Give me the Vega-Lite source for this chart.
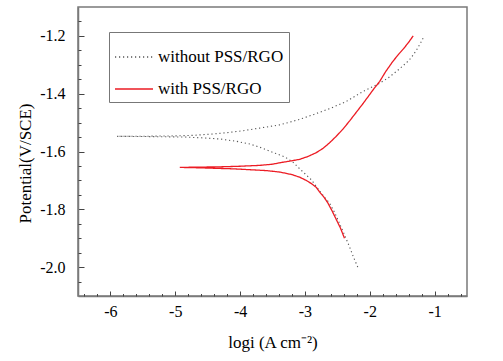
{
  "$schema": "https://vega.github.io/schema/vega-lite/v6.json",
  "width": 389,
  "height": 289,
  "autosize": {"type": "none"},
  "padding": {"left": 78, "top": 7, "right": 36, "bottom": 65},
  "background": "white",
  "config": {
    "view": {"stroke": "#7a7a7a", "strokeWidth": 1.5},
    "font": "Liberation Serif"
  },
  "data": {
    "values": [
      {"s": "without PSS/RGO", "x": -2.185, "y": -2.000},
      {"s": "without PSS/RGO", "x": -2.25, "y": -1.966},
      {"s": "without PSS/RGO", "x": -2.312, "y": -1.930},
      {"s": "without PSS/RGO", "x": -2.39, "y": -1.888},
      {"s": "without PSS/RGO", "x": -2.466, "y": -1.849},
      {"s": "without PSS/RGO", "x": -2.54, "y": -1.812},
      {"s": "without PSS/RGO", "x": -2.62, "y": -1.779},
      {"s": "without PSS/RGO", "x": -2.72, "y": -1.752},
      {"s": "without PSS/RGO", "x": -2.825, "y": -1.721},
      {"s": "without PSS/RGO", "x": -2.90, "y": -1.698},
      {"s": "without PSS/RGO", "x": -2.98, "y": -1.681},
      {"s": "without PSS/RGO", "x": -3.08, "y": -1.660},
      {"s": "without PSS/RGO", "x": -3.185, "y": -1.637},
      {"s": "without PSS/RGO", "x": -3.30, "y": -1.620},
      {"s": "without PSS/RGO", "x": -3.389, "y": -1.612},
      {"s": "without PSS/RGO", "x": -3.55, "y": -1.598},
      {"s": "without PSS/RGO", "x": -3.70, "y": -1.585},
      {"s": "without PSS/RGO", "x": -3.85, "y": -1.574},
      {"s": "without PSS/RGO", "x": -4.05, "y": -1.565},
      {"s": "without PSS/RGO", "x": -4.30, "y": -1.557},
      {"s": "without PSS/RGO", "x": -4.57, "y": -1.553},
      {"s": "without PSS/RGO", "x": -4.85, "y": -1.550},
      {"s": "without PSS/RGO", "x": -5.20, "y": -1.549},
      {"s": "without PSS/RGO", "x": -5.55, "y": -1.548},
      {"s": "without PSS/RGO", "x": -5.90, "y": -1.5475},
      {"s": "without PSS/RGO", "x": -5.40, "y": -1.547},
      {"s": "without PSS/RGO", "x": -5.00, "y": -1.546},
      {"s": "without PSS/RGO", "x": -4.72, "y": -1.544},
      {"s": "without PSS/RGO", "x": -4.45, "y": -1.540},
      {"s": "without PSS/RGO", "x": -4.21, "y": -1.535},
      {"s": "without PSS/RGO", "x": -3.95, "y": -1.528},
      {"s": "without PSS/RGO", "x": -3.70, "y": -1.519},
      {"s": "without PSS/RGO", "x": -3.389, "y": -1.508},
      {"s": "without PSS/RGO", "x": -3.10, "y": -1.490},
      {"s": "without PSS/RGO", "x": -2.877, "y": -1.473},
      {"s": "without PSS/RGO", "x": -2.60, "y": -1.450},
      {"s": "without PSS/RGO", "x": -2.364, "y": -1.427},
      {"s": "without PSS/RGO", "x": -2.108, "y": -1.393},
      {"s": "without PSS/RGO", "x": -1.85, "y": -1.364},
      {"s": "without PSS/RGO", "x": -1.72, "y": -1.346},
      {"s": "without PSS/RGO", "x": -1.594, "y": -1.324},
      {"s": "without PSS/RGO", "x": -1.49, "y": -1.304},
      {"s": "without PSS/RGO", "x": -1.389, "y": -1.283},
      {"s": "without PSS/RGO", "x": -1.32, "y": -1.263},
      {"s": "without PSS/RGO", "x": -1.262, "y": -1.243},
      {"s": "without PSS/RGO", "x": -1.21, "y": -1.222},
      {"s": "without PSS/RGO", "x": -1.158, "y": -1.200},
      {"s": "with PSS/RGO", "x": -2.39, "y": -1.900},
      {"s": "with PSS/RGO", "x": -2.45, "y": -1.866},
      {"s": "with PSS/RGO", "x": -2.517, "y": -1.835},
      {"s": "with PSS/RGO", "x": -2.58, "y": -1.806},
      {"s": "with PSS/RGO", "x": -2.646, "y": -1.778},
      {"s": "with PSS/RGO", "x": -2.71, "y": -1.757},
      {"s": "with PSS/RGO", "x": -2.774, "y": -1.740},
      {"s": "with PSS/RGO", "x": -2.825, "y": -1.724},
      {"s": "with PSS/RGO", "x": -2.90, "y": -1.711},
      {"s": "with PSS/RGO", "x": -2.98, "y": -1.700},
      {"s": "with PSS/RGO", "x": -3.08, "y": -1.689},
      {"s": "with PSS/RGO", "x": -3.20, "y": -1.680},
      {"s": "with PSS/RGO", "x": -3.389, "y": -1.671},
      {"s": "with PSS/RGO", "x": -3.60, "y": -1.666},
      {"s": "with PSS/RGO", "x": -3.85, "y": -1.663},
      {"s": "with PSS/RGO", "x": -4.10, "y": -1.660},
      {"s": "with PSS/RGO", "x": -4.40, "y": -1.658},
      {"s": "with PSS/RGO", "x": -4.70, "y": -1.656},
      {"s": "with PSS/RGO", "x": -4.93, "y": -1.655},
      {"s": "with PSS/RGO", "x": -4.60, "y": -1.654},
      {"s": "with PSS/RGO", "x": -4.30, "y": -1.653},
      {"s": "with PSS/RGO", "x": -4.00, "y": -1.651},
      {"s": "with PSS/RGO", "x": -3.70, "y": -1.648},
      {"s": "with PSS/RGO", "x": -3.50, "y": -1.644},
      {"s": "with PSS/RGO", "x": -3.389, "y": -1.639},
      {"s": "with PSS/RGO", "x": -3.20, "y": -1.632},
      {"s": "with PSS/RGO", "x": -3.08, "y": -1.627},
      {"s": "with PSS/RGO", "x": -2.95, "y": -1.617},
      {"s": "with PSS/RGO", "x": -2.825, "y": -1.604},
      {"s": "with PSS/RGO", "x": -2.72, "y": -1.589},
      {"s": "with PSS/RGO", "x": -2.62, "y": -1.570},
      {"s": "with PSS/RGO", "x": -2.52, "y": -1.548},
      {"s": "with PSS/RGO", "x": -2.415, "y": -1.523},
      {"s": "with PSS/RGO", "x": -2.31, "y": -1.494},
      {"s": "with PSS/RGO", "x": -2.21, "y": -1.465},
      {"s": "with PSS/RGO", "x": -2.10, "y": -1.433},
      {"s": "with PSS/RGO", "x": -2.005, "y": -1.404},
      {"s": "with PSS/RGO", "x": -1.94, "y": -1.384},
      {"s": "with PSS/RGO", "x": -1.848, "y": -1.358},
      {"s": "with PSS/RGO", "x": -1.75, "y": -1.322},
      {"s": "with PSS/RGO", "x": -1.646, "y": -1.289},
      {"s": "with PSS/RGO", "x": -1.55, "y": -1.262},
      {"s": "with PSS/RGO", "x": -1.47, "y": -1.242},
      {"s": "with PSS/RGO", "x": -1.40, "y": -1.222},
      {"s": "with PSS/RGO", "x": -1.33, "y": -1.200}
    ]
  },
  "encoding": {
    "order": {"field": "y", "type": "quantitative"},
    "color": {
      "field": "s",
      "type": "nominal",
      "scale": {"domain": ["without PSS/RGO", "with PSS/RGO"], "range": ["#555555", "#ec1c24"]},
      "legend": {
        "title": null,
        "orient": "none",
        "legendX": 31,
        "legendY": 25,
        "strokeColor": "#777",
        "padding": 5,
        "symbolType": "stroke",
        "symbolSize": 1444,
        "symbolStrokeWidth": 1.3,
        "labelFont": "Liberation Serif",
        "labelFontSize": 17,
        "labelColor": "black",
        "labelOffset": 4,
        "rowPadding": 4,
        "labelLimit": 300
      }
    },
    "strokeDash": {
      "field": "s",
      "type": "nominal",
      "scale": {"domain": ["without PSS/RGO", "with PSS/RGO"], "range": [[1.2, 2.8], [1, 0]]},
      "legend": {
        "title": null,
        "orient": "none",
        "legendX": 31,
        "legendY": 25,
        "strokeColor": "#777",
        "padding": 5,
        "symbolType": "stroke",
        "symbolSize": 1444,
        "symbolStrokeWidth": 1.3,
        "labelFont": "Liberation Serif",
        "labelFontSize": 17,
        "labelColor": "black",
        "labelOffset": 4,
        "rowPadding": 4,
        "labelLimit": 300
      }
    }
  },
  "resolve": {"axis": {"x": "independent", "y": "independent"}},
  "layer": [
    {
      "transform": [{"filter": "datum.s === 'without PSS/RGO'"}],
      "mark": {"type": "line", "strokeWidth": 1.1, "clip": true},
      "encoding": {
        "x": {
          "field": "x",
          "type": "quantitative",
          "scale": {"domain": [-6.5, -0.5], "nice": false, "zero": false},
          "axis": {
            "orient": "bottom",
            "title": "logi (A cm⁻²)",
            "values": [-6, -5, -4, -3, -2, -1],
            "labelExpr": "replace(format(datum.value, 'd'), '\u2212', '-')",
            "tickSize": -5,
            "tickColor": "#444",
            "domainColor": "#7a7a7a",
            "domainWidth": 1.5,
            "grid": false,
            "labelFont": "Liberation Serif",
            "labelFontSize": 16,
            "labelColor": "black",
            "labelPadding": 12,
            "labelOverlap": false,
            "labelFlush": false,
            "titleFont": "Liberation Serif",
            "titleFontSize": 17,
            "titleFontWeight": "normal",
            "titleColor": "black",
            "titleBaseline": "alphabetic",
            "titleY": 51
          }
        },
        "y": {
          "field": "y",
          "type": "quantitative",
          "scale": {"domain": [-2.1, -1.1], "nice": false, "zero": false},
          "axis": {
            "orient": "left",
            "title": "Potential(V/SCE)",
            "values": [-2.0, -1.8, -1.6, -1.4, -1.2],
            "labelExpr": "replace(format(datum.value, '.1f'), '\u2212', '-')",
            "tickSize": -6,
            "tickColor": "#444",
            "domainColor": "#7a7a7a",
            "domainWidth": 1.5,
            "grid": false,
            "labelFont": "Liberation Serif",
            "labelFontSize": 16,
            "labelColor": "black",
            "labelPadding": 19,
            "labelOverlap": false,
            "labelFlush": false,
            "titleFont": "Liberation Serif",
            "titleFontSize": 17,
            "titleFontWeight": "normal",
            "titleColor": "black",
            "titleX": -53,
            "titleY": 156,
            "titleBaseline": "middle",
            "titleAngle": -90
          }
        }
      }
    },
    {
      "transform": [{"filter": "datum.s === 'with PSS/RGO'"}],
      "mark": {"type": "line", "strokeWidth": 1.3, "clip": true},
      "encoding": {
        "x": {
          "field": "x",
          "type": "quantitative",
          "scale": {"domain": [-6.5, -0.5], "nice": false, "zero": false},
          "axis": {
            "orient": "bottom",
            "title": null,
            "values": [-6.4, -6.2, -5.8, -5.6, -5.4, -5.2, -4.8, -4.6, -4.4, -4.2, -3.8, -3.6, -3.4, -3.2, -2.8, -2.6, -2.4, -2.2, -1.8, -1.6, -1.4, -1.2, -0.8, -0.6],
            "labels": false,
            "domain": false,
            "grid": false,
            "tickSize": -2.5,
            "tickColor": "#444"
          }
        },
        "y": {
          "field": "y",
          "type": "quantitative",
          "scale": {"domain": [-2.1, -1.1], "nice": false, "zero": false},
          "axis": {
            "orient": "left",
            "title": null,
            "values": [-2.05, -1.95, -1.9, -1.85, -1.75, -1.7, -1.65, -1.55, -1.5, -1.45, -1.35, -1.3, -1.25, -1.15],
            "labels": false,
            "domain": false,
            "grid": false,
            "tickSize": -3,
            "tickColor": "#444"
          }
        }
      }
    }
  ]
}
